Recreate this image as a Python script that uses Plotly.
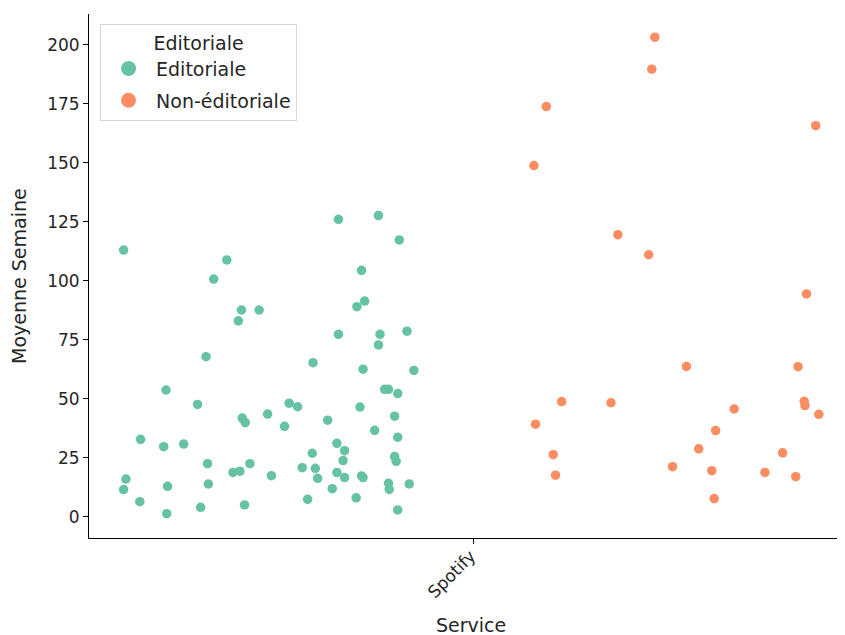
import plotly.graph_objects as go

# Categories
services = ["Spotify"]
hue_levels = ["Editoriale", "Non-éditoriale"]
colors = ["#66c2a5", "#fc8d62"]
x_title = "Service"
y_title = "Moyenne Semaine"

# Editoriale: values (Moyenne Semaine) and strip jitter offsets (category units)
edit_values = [113.1, 108.9, 100.8, 87.7, 83.1, 87.7, 126.1, 127.7, 117.4, 104.5,
               91.5, 89.1, 77.4, 77.4, 78.7, 67.9, 53.8, 47.7, 41.9, 40.0,
               32.9, 29.8, 30.9, 22.6, 16.1, 11.6, 13.0, 14.0, 18.9, 19.4,
               22.6, 6.5, 1.4, 4.1, 5.1, 72.9, 65.4, 62.6, 62.1, 54.1,
               54.1, 52.3, 48.2, 46.7, 43.6, 46.6, 42.7, 38.4, 41.0, 36.7,
               33.8, 31.2, 28.1, 27.0, 23.9, 25.6, 23.6, 20.9, 20.6, 18.8,
               16.7, 16.4, 17.4, 16.7, 17.5, 14.3, 11.7, 14.0, 12.0, 7.5,
               8.1, 3.0]
edit_jitter = [-0.455, -0.321, -0.338, -0.302, -0.306, -0.279, -0.176, -0.124, -0.097, -0.146,
               -0.142, -0.152, -0.176, -0.122, -0.087, -0.348, -0.400, -0.359, -0.301, -0.297,
               -0.433, -0.403, -0.377, -0.346, -0.452, -0.455, -0.398, -0.345, -0.313, -0.304,
               -0.291, -0.434, -0.399, -0.355, -0.298, -0.124, -0.209, -0.144, -0.078, -0.116,
               -0.111, -0.099, -0.240, -0.229, -0.268, -0.148, -0.103, -0.246, -0.190, -0.129,
               -0.099, -0.178, -0.168, -0.210, -0.170, -0.103, -0.101, -0.223, -0.206, -0.178,
               -0.168, -0.203, -0.146, -0.144, -0.263, -0.111, -0.110, -0.084, -0.184, -0.216,
               -0.153, -0.099]

# Non-éditoriale
nonedit_values = [203.3, 189.7, 173.9, 148.9, 119.6, 111.1, 165.8, 94.5, 48.9, 48.4,
                  39.3, 26.4, 17.7, 21.3, 63.8, 63.7, 45.8, 49.0, 47.2, 43.5,
                  36.6, 28.9, 27.2, 19.6, 18.9, 17.1, 7.8]
nonedit_jitter = [0.235, 0.231, 0.094, 0.078, 0.187, 0.227, 0.444, 0.432, 0.114, 0.178,
                  0.080, 0.103, 0.106, 0.258, 0.276, 0.421, 0.338, 0.429, 0.430, 0.448,
                  0.314, 0.292, 0.401, 0.309, 0.378, 0.418, 0.312]

y_ticks = [0, 25, 50, 75, 100, 125, 150, 175, 200]

cat_index = 0  # position of "Spotify"
fig = go.Figure()
for i, (name, vals, jit, col) in enumerate([
    (hue_levels[0], edit_values, edit_jitter, colors[0]),
    (hue_levels[1], nonedit_values, nonedit_jitter, colors[1]),
]):
    fig.add_trace(go.Scatter(
        x=[cat_index + j for j in jit], y=vals, mode="markers", name=name,
        marker=dict(color=col, size=9.5, line=dict(width=0)),
        showlegend=False,
    ))
    # legend entry with a larger marker, like the reference legend
    fig.add_trace(go.Scatter(
        x=[None], y=[None], mode="markers", name=name,
        marker=dict(color=col, size=15, line=dict(width=0)),
        legendgroup=f"g{i}", showlegend=True,
    ))

FAM = "DejaVu Sans"
TXT = "#262626"
tick_font = dict(family=FAM, size=17, color=TXT)
label_font = dict(family=FAM, size=19, color=TXT)

# page body adds an 8px margin, so the figure is 8px smaller than the window
fig.update_layout(
    width=837, height=627,
    margin=dict(l=81, r=0, t=6, b=97),
    paper_bgcolor="white", plot_bgcolor="white",
    font=tick_font,
    showlegend=True,
    legend=dict(
        title=dict(text="Editoriale", side="top center", font=label_font),
        x=0.0146, y=0.981, xanchor="left", yanchor="top",
        bgcolor="white", bordercolor="#d6d6d6", borderwidth=1,
        font=label_font,
        itemsizing="trace", itemwidth=45,
        tracegroupgap=4, traceorder="grouped",
    ),
    xaxis=dict(
        range=[-0.5, 0.482], tickvals=[cat_index], ticktext=[""],
        ticks="outside", ticklen=5, tickcolor="black",
        automargin=False,
        showline=True, linecolor="black", linewidth=1,
        showgrid=False, zeroline=False,
    ),
    yaxis=dict(
        range=[-8.9, 213.1], tickvals=y_ticks,
        ticks="outside", ticklen=5, tickcolor="black",
        tickfont=tick_font, automargin=False,
        showline=True, linecolor="black", linewidth=1,
        showgrid=False, zeroline=False,
    ),
    annotations=[
        dict(text=services[0], x=cat_index - 0.029, xref="x", y=-0.0687, yref="paper",
             xanchor="center", yanchor="middle", textangle=-45, showarrow=False,
             font=tick_font),
        dict(text=x_title, x=cat_index - 0.004, xref="x", y=-0.166, yref="paper",
             xanchor="center", yanchor="middle", showarrow=False, font=label_font),
        dict(text=y_title, x=-0.0926, xref="paper", y=0.5, yref="paper",
             xanchor="center", yanchor="middle", textangle=-90, showarrow=False,
             font=label_font),
    ],
)

fig.write_html("out.html")
